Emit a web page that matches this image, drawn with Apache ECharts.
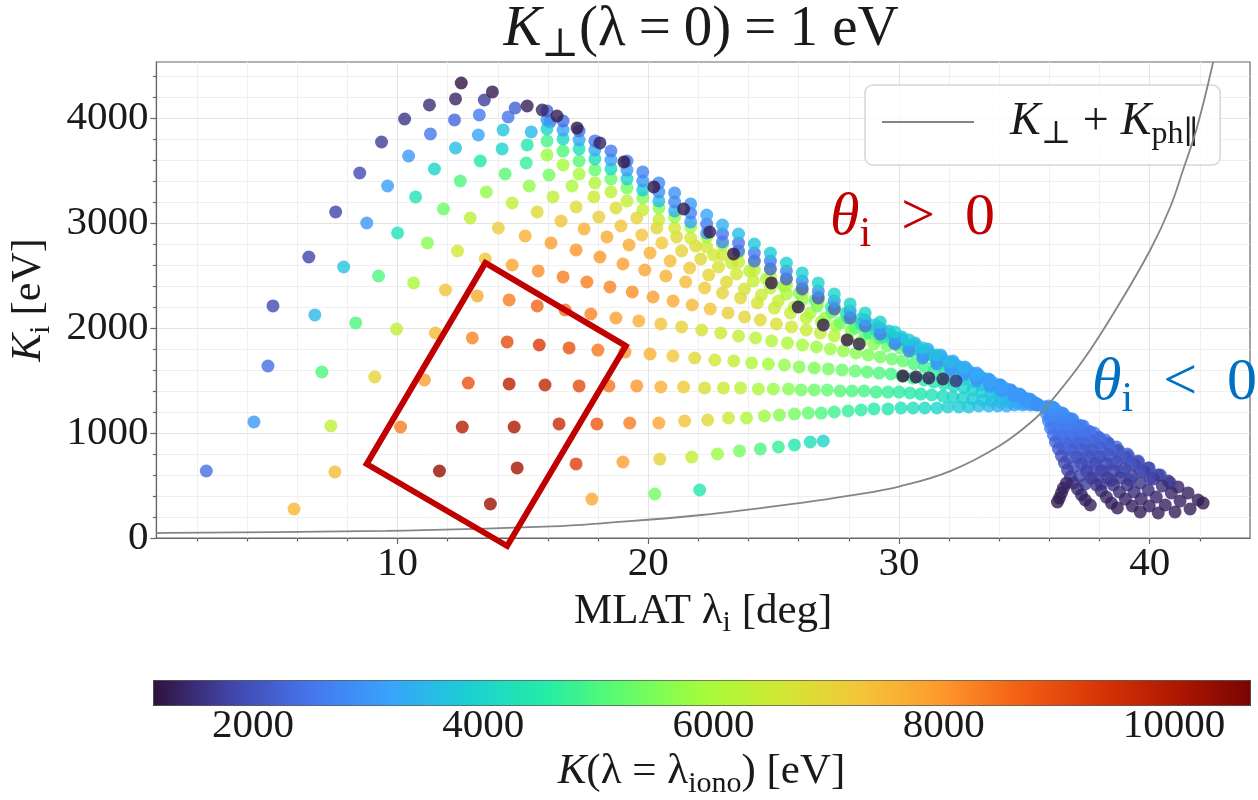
<!DOCTYPE html>
<html>
<head>
<meta charset="utf-8">
<script src="https://cdn.jsdelivr.net/npm/echarts@6/dist/echarts.min.js"></script>
<style>html,body{margin:0;padding:0;background:#fff}#chart{width:1258px;height:800px}</style>
</head>
<body>
<div id="chart"></div>
<script>
// Each point: [MLAT lambda_i (deg), K_i (eV), K at ionosphere (eV)]
// Lower rows, fanning towards the crossing point near 35.8 deg
const rowA = [[5.87,276,7500],[13.70,324,10200],[17.75,371,7700],[20.26,419,5400],[22.05,457,4400]];
const rowB = [[2.37,638,2400],[7.50,629,7400],[11.67,638,10300],[14.77,667,10100],[17.12,705,9200],[18.99,724,7900],[20.46,752,7000],[21.73,771,6300],[22.76,800,5800],[23.64,829,5400],[24.47,848,5000],[25.19,867,4700],[25.83,886,4400],[26.46,914,4200],[26.98,924,4000]];
const rowC = [[4.27,1105,3000],[7.34,1067,6300],[10.12,1057,8300],[12.58,1057,9900],[14.65,1057,10000],[16.44,1086,9600],[17.95,1086,8800],[19.26,1095,8300],[20.42,1095,7800],[21.45,1114,7300],[22.37,1124,6900],[23.20,1143,6500],[23.92,1143,6100],[24.63,1162,5800],[25.23,1171,5600],[25.83,1181,5400],[26.38,1190,5200],[26.90,1190,5000],[27.42,1200,4800],[27.97,1210,4700],[28.49,1219,4600],[29.00,1229,4500],[29.56,1229,4400],[30.08,1238,4300],[30.56,1238,4200],[31.03,1238,4100],[31.51,1238,4000],[31.95,1248,3900],[32.39,1248,3800],[32.78,1248,3700],[33.18,1257,3600],[33.58,1257,3500],[33.94,1257,3400],[34.29,1257,3300],[34.61,1267,3200],[34.93,1267,3100],[35.25,1267,3000],[35.57,1267,3000]];
const rowD = [[4.83,1638,2400],[6.98,1581,5000],[9.09,1533,7000],[11.07,1505,7900],[12.82,1476,8900],[14.45,1467,9800],[15.88,1457,9700],[17.24,1448,9000],[18.43,1448,8400],[19.54,1448,8000],[20.50,1438,7600],[21.41,1438,7200],[22.25,1429,6800],[23.00,1429,6500],[23.68,1429,6200],[24.39,1419,6000],[24.99,1419,5800],[25.59,1419,5600],[26.10,1410,5400],[26.62,1410,5300],[27.14,1410,5200],[27.65,1400,5100],[28.13,1400,5000],[28.61,1400,4900],[29.09,1390,4800],[29.56,1390,4700],[30.00,1390,4600],[30.44,1381,4500],[30.87,1371,4400],[31.31,1362,4300],[31.75,1352,4100],[32.15,1343,4000],[32.55,1333,3900],[32.94,1324,3800],[33.34,1314,3700],[33.70,1305,3600],[34.06,1295,3500],[34.41,1295,3400],[34.73,1286,3300],[35.05,1276,3200],[35.37,1276,3100]];
const rowE = [[5.03,2210,1900],[6.70,2124,3500],[8.33,2048,5000],[9.96,1990,6300],[11.51,1952,7500],[12.98,1905,8200],[14.37,1867,9000],[15.65,1838,9300],[16.84,1810,8900],[17.99,1790,8400],[19.07,1771,8000],[20.07,1752,7600],[20.98,1733,7200],[21.85,1714,6900],[22.65,1695,6600],[23.41,1686,6300],[24.12,1667,6100],[24.79,1657,5900],[25.43,1648,5700],[26.02,1629,5600],[26.62,1619,5500],[27.18,1610,5400],[27.73,1600,5300],[28.25,1590,5200],[28.73,1581,5100],[29.21,1571,5000],[29.68,1562,4900],[30.12,1543,4800],[30.56,1524,4700],[31.00,1505,4500],[31.39,1486,4400],[31.79,1467,4300],[32.19,1448,4100],[32.59,1429,4000],[32.94,1410,3900],[33.30,1390,3800],[33.66,1371,3700],[34.02,1352,3600],[34.33,1333,3500],[34.65,1314,3300],[34.97,1295,3200],[35.29,1286,3100]];
const rowF = [[6.46,2676,1800],[7.85,2581,3700],[9.24,2495,5000],[10.64,2429,6000],[11.91,2362,7300],[13.18,2305,7700],[14.45,2267,8300],[15.57,2210,8600],[16.68,2171,8500],[17.71,2133,8200],[18.71,2095,7900],[19.62,2067,7600],[20.50,2038,7300],[21.33,2010,7000],[22.13,1981,6700],[22.89,1952,6500],[23.60,1924,6300],[24.28,1905,6200],[24.92,1876,6100],[25.55,1857,6000],[26.15,1838,5900],[26.71,1819,5800],[27.26,1800,5800],[27.78,1781,5700],[28.29,1762,5600],[28.77,1743,5500],[29.25,1724,5400],[29.72,1705,5300],[30.16,1686,5200],[30.60,1657,5000],[31.03,1629,4800],[31.43,1600,4600],[31.83,1571,4400],[32.23,1543,4200],[32.59,1514,4000],[32.94,1486,3900],[33.30,1457,3800],[33.66,1429,3700],[34.02,1400,3600],[34.33,1371,3500],[34.65,1343,3400],[34.97,1314,3300],[35.29,1286,3100]];
// Upper rows, starting on the outer arc and sinking into the dense band
const rowG = [[7.53,3105,1800],[8.77,3000,3000],[10.00,2905,4300],[11.19,2810,5600],[12.39,2733,6600],[13.50,2657,7300],[14.57,2600,7800],[15.61,2543,8100],[16.60,2486,8300],[17.55,2438,8300],[18.47,2391,8200],[19.36,2343,8100],[20.19,2295,7900],[20.99,2257,7700],[21.75,2219,7500],[22.47,2181,7300],[23.18,2143,7100],[23.84,2105,7000],[24.47,2076,6900],[25.11,2038,6700],[25.71,2010,6600],[26.30,1981,6400],[26.86,1952,6300],[27.42,1924,6200],[27.97,1895,6000],[28.49,1867,5800],[29.00,1848,5600],[29.52,1829,5400],[30.04,1810,5200],[30.52,1771,5000],[31.00,1733,4800],[31.47,1695,4600],[31.91,1657,4400],[32.35,1619,4200],[32.78,1581,4000],[33.22,1533,3800],[33.62,1495,3600],[34.02,1457,3400],[34.41,1410,3300],[34.81,1371,3100],[35.21,1324,3000]];
const rowH = [[8.49,3476,1900],[9.60,3352,3100],[10.72,3248,4300],[11.83,3133,5300],[12.90,3048,6300],[14.02,2952,7100],[15.09,2876,7600],[16.12,2810,7900],[17.12,2743,8000],[18.07,2676,8000],[18.99,2610,7900],[19.86,2552,7800],[20.70,2495,7600],[21.49,2438,7400],[22.25,2381,7200],[22.96,2333,7000],[23.68,2286,6900],[24.35,2238,6700],[25.03,2190,6500],[25.67,2143,6400],[26.30,2095,6200],[26.90,2057,6000],[27.49,2019,5800],[28.09,1981,5600],[28.65,1943,5300],[29.21,1905,5000],[29.76,1867,4700],[30.28,1829,4400],[30.80,1790,4200],[31.31,1743,4000],[31.79,1695,3800],[32.27,1648,3700],[32.74,1600,3600],[33.18,1552,3500],[33.62,1505,3400],[34.06,1457,3300],[34.45,1410,3200],[34.85,1362,3100],[35.25,1314,3000]];
const rowI = [[9.36,3771,1700],[10.44,3638,3000],[11.47,3514,4000],[12.50,3400,5000],[13.54,3295,5700],[14.57,3190,6300],[15.57,3105,6900],[16.52,3019,7300],[17.44,2943,7600],[18.35,2867,7700],[19.23,2790,7700],[20.07,2714,7600],[20.87,2638,7400],[21.65,2571,7200],[22.41,2505,7000],[23.12,2438,6900],[23.84,2371,6700],[24.51,2314,6500],[25.19,2257,6400],[25.83,2200,6200],[26.46,2143,6000],[27.06,2095,5700],[27.65,2048,5400],[28.25,2000,5100],[28.81,1952,4800],[29.36,1914,4500],[29.92,1876,4200],[30.44,1829,4000],[30.95,1781,3900],[31.47,1733,3800],[31.95,1676,3700],[32.43,1629,3600],[32.90,1571,3500],[33.34,1524,3400],[33.78,1476,3300],[34.21,1429,3200],[34.61,1381,3100],[35.01,1333,3000],[35.37,1295,3000]];
const rowJ = [[10.28,3990,1600],[11.31,3848,2500],[12.31,3714,3600],[13.30,3590,4400],[14.29,3467,5100],[15.25,3352,5700],[16.20,3248,6300],[17.12,3152,6800],[18.03,3057,7100],[18.91,2971,7300],[19.74,2886,7300],[20.54,2810,7200],[21.33,2733,7000],[22.09,2657,6900],[22.80,2581,6700],[23.52,2514,6600],[24.19,2448,6400],[24.87,2381,6200],[25.51,2324,6000],[26.14,2267,5700],[26.74,2210,5400],[27.34,2152,5100],[27.93,2095,4800],[28.49,2038,4500],[29.05,1990,4200],[29.60,1943,4000],[30.12,1895,3800],[30.64,1838,3700],[31.15,1781,3600],[31.67,1724,3500],[32.15,1667,3400],[32.63,1610,3300],[33.10,1552,3200],[33.58,1495,3100],[34.02,1448,3000],[34.45,1400,3000],[34.85,1352,3000],[35.25,1305,3000]];
const rowK = [[11.27,4124,1500],[12.27,3981,2300],[13.22,3838,3200],[14.17,3705,4000],[15.13,3571,4700],[16.04,3457,5400],[16.96,3352,6000],[17.83,3248,6500],[18.71,3143,6800],[19.54,3048,7000],[20.34,2952,7000],[21.13,2867,6900],[21.89,2781,6800],[22.61,2695,6600],[23.32,2619,6400],[24.04,2543,6200],[24.71,2467,6000],[25.39,2400,5700],[26.02,2333,5400],[26.66,2267,5000],[27.30,2200,4600],[27.89,2143,4300],[28.49,2086,4000],[29.05,2029,3800],[29.60,1971,3700],[30.12,1914,3600],[30.64,1857,3500],[31.15,1800,3400],[31.67,1743,3300],[32.15,1686,3200],[32.63,1629,3100],[33.10,1571,3000],[33.58,1514,3000],[34.02,1457,3000],[34.45,1410,3000],[34.85,1362,3000],[35.25,1314,3000]];
// Points near the top of the outer arc
const topArc = [[12.31,4181,1400],[13.26,4029,2600],[14.21,3886,3700],[15.17,3743,4400],[13.46,4171,1700],[14.41,4010,2500],[15.33,3867,3500],[14.69,4095,2200],[16.08,3962,2400]];
// Dense band along the upper envelope (bottom layer first)
const bandQ = [[15.96,3648,5800],[16.60,3552,5900],[17.24,3466,6000],[17.87,3381,6100],[18.51,3296,6200],[19.15,3209,6300],[19.78,3124,6400],[20.42,3029,6500],[21.05,2953,6600],[21.69,2857,6600],[22.33,2771,6600],[22.96,2695,6600],[23.60,2628,6500],[24.23,2552,6400],[24.87,2485,6300],[25.51,2409,6200],[26.14,2334,6100],[26.78,2258,6000],[27.42,2172,5900],[28.05,2096,5700],[28.65,2029,5500],[29.25,1952,5300],[29.84,1867,5100],[30.40,1800,4800],[30.95,1734,4500],[31.51,1676,4200],[32.07,1619,4000],[32.58,1571,3800],[33.10,1514,3600],[33.62,1466,3400],[34.10,1409,3200],[34.57,1362,3100],[35.05,1314,3000],[35.49,1276,2900]];
const bandP = [[15.96,3781,4900],[16.60,3685,5000],[17.24,3590,5100],[17.87,3505,5200],[18.51,3419,5300],[19.15,3333,5400],[19.78,3238,5500],[20.42,3143,5600],[21.05,3057,5700],[21.69,2962,5800],[22.33,2866,5900],[22.96,2791,6000],[23.60,2714,6000],[24.23,2629,6000],[24.87,2562,6000],[25.51,2476,5900],[26.14,2391,5800],[26.78,2305,5600],[27.42,2210,5400],[28.05,2134,5200],[28.65,2057,5000],[29.25,1981,4800],[29.84,1895,4600],[30.40,1829,4400],[30.95,1762,4200],[31.51,1695,4000],[32.07,1638,3800],[32.58,1590,3600],[33.10,1523,3400],[33.62,1476,3300],[34.10,1419,3200],[34.57,1371,3100],[35.05,1314,3000],[35.49,1276,2900]];
const bandL = [[15.96,3896,4000],[16.60,3800,4100],[17.24,3705,4200],[17.87,3610,4200],[18.51,3515,4100],[19.15,3419,4000],[19.78,3315,3800],[20.42,3210,3600],[21.05,3115,3400],[21.69,3010,3200],[22.33,2905,3000],[22.96,2819,2800],[23.60,2733,2600],[24.23,2638,2400],[24.87,2562,2300],[25.51,2467,2200],[26.14,2372,2100],[26.78,2286,2100],[27.42,2181,2200],[28.05,2096,2300],[28.65,2019,2400],[29.25,1943,2500],[29.84,1848,2600],[30.40,1781,2700],[30.95,1715,2800],[31.51,1657,2900],[32.07,1600,2900],[32.58,1552,3000],[33.10,1495,3000],[33.62,1447,3000],[34.10,1400,3000],[34.57,1352,3000],[35.05,1305,3000],[35.49,1266,2900]];
const bandM = [[15.96,3981,3000],[16.60,3885,3200],[17.24,3790,3300],[17.87,3695,3300],[18.51,3600,3200],[19.15,3504,3100],[19.78,3400,3000],[20.42,3295,2900],[21.05,3200,2800],[21.69,3095,2700],[22.33,2990,2600],[22.96,2895,2500],[23.60,2809,2500],[24.23,2714,2500],[24.87,2638,2600],[25.51,2543,2700],[26.14,2448,2800],[26.78,2353,2900],[27.42,2257,3000],[28.05,2162,3000],[28.65,2076,3100],[29.25,2000,3100],[29.84,1905,3100],[30.40,1838,3100],[30.95,1762,3100],[31.51,1705,3100],[32.07,1638,3100],[32.58,1590,3000],[33.10,1523,3000],[33.62,1476,3000],[34.10,1419,3000],[34.57,1371,3000],[35.05,1314,3000],[35.49,1276,2900]];
const bandN = [[15.96,4067,2200],[16.60,3971,2400],[17.24,3876,2500],[17.87,3781,2500],[18.51,3686,2600],[19.15,3590,2600],[19.78,3486,2700],[20.42,3381,2800],[21.05,3286,2900],[21.69,3181,3000],[22.33,3076,3200],[22.96,2981,3400],[23.60,2895,3600],[24.23,2800,3700],[24.87,2714,3800],[25.51,2619,3900],[26.14,2524,3900],[26.78,2429,4000],[27.42,2324,4000],[28.05,2229,4000],[28.65,2143,4000],[29.25,2057,3900],[29.84,1962,3900],[30.40,1886,3800],[30.95,1810,3700],[31.51,1743,3600],[32.07,1676,3500],[32.58,1619,3400],[33.10,1552,3300],[33.62,1495,3200],[34.10,1438,3100],[34.57,1381,3000],[35.05,1324,3000],[35.49,1276,2900]];
// Low-energy row cutting through the band
const foldRow = [[12.54,4333,1150],[13.78,4248,1250],[15.17,4114,1300],[15.77,4076,1400],[16.36,4019,1250],[17.16,3905,1200],[18.07,3762,1350],[19.03,3581,1200],[20.22,3343,1200],[21.41,3133,1250],[22.45,2914,1300],[23.40,2705,1200],[24.91,2429,1200],[25.98,2200,1200],[26.98,2029,1250],[27.93,1886,1200],[28.41,1848,1300],[30.16,1543,1150],[30.68,1533,1200],[31.19,1524,1250],[31.75,1514,1300],[32.27,1495,1500]];
// theta_i < 0 branch: streaks spreading out past the crossing point
const fan1 = [[35.80,1248,3000],[35.88,1181,2900],[35.96,1114,2750],[36.04,1048,2600],[36.16,981,2450],[36.24,914,2300],[36.36,848,2150],[36.48,781,2000],[36.60,714,1900],[36.72,648,1800],[36.84,581,1700],[36.96,524,1600],[37.12,467,1500],[37.28,410,1400],[37.43,362,1350],[37.63,314,1300]];
const fan12 = [[35.84,1238,3000],[36.00,1143,2830],[36.16,1048,2660],[36.36,952,2490],[36.56,857,2320],[36.76,762,2150],[36.96,676,2000],[37.20,590,1840],[37.43,514,1710]];
const fan2 = [[35.88,1238,3000],[36.04,1171,2900],[36.20,1105,2750],[36.36,1038,2600],[36.52,971,2450],[36.68,905,2300],[36.88,838,2150],[37.08,771,2000],[37.28,705,1900],[37.47,638,1800],[37.67,571,1700],[37.87,505,1600],[38.07,448,1500],[38.27,390,1400],[38.47,333,1350],[38.71,286,1300]];
const fan23 = [[35.92,1238,3000],[36.16,1143,2830],[36.40,1048,2660],[36.68,952,2490],[36.96,857,2320],[37.24,762,2150],[37.51,676,2000],[37.79,590,1840],[38.07,514,1710]];
const fan3 = [[35.96,1238,3000],[36.16,1171,2900],[36.40,1105,2750],[36.64,1038,2600],[36.88,971,2450],[37.12,905,2300],[37.35,838,2150],[37.59,771,2000],[37.83,705,1900],[38.07,638,1800],[38.31,571,1700],[38.55,505,1600],[38.79,438,1500],[39.03,371,1400],[39.30,305,1350],[39.62,248,1300]];
const fan34 = [[36.00,1238,3000],[36.28,1152,2850],[36.56,1067,2700],[36.88,981,2540],[37.20,895,2390],[37.51,810,2230],[37.83,724,2080],[38.15,638,1930],[38.47,552,1780]];
const fan4 = [[36.04,1238,3000],[36.32,1171,2900],[36.60,1105,2750],[36.88,1038,2600],[37.16,971,2450],[37.43,905,2300],[37.71,838,2150],[37.99,771,2000],[38.27,705,1900],[38.55,638,1800],[38.83,571,1700],[39.11,505,1600],[39.38,438,1500],[39.66,371,1400],[39.98,305,1350],[40.34,238,1300]];
const fan45 = [[36.08,1238,3000],[36.40,1162,2860],[36.72,1086,2730],[37.08,1010,2590],[37.43,933,2460],[37.79,857,2320],[38.15,781,2180],[38.51,705,2050],[38.87,629,1910],[39.22,552,1780]];
const fan5 = [[36.12,1238,3000],[36.44,1181,2900],[36.76,1124,2750],[37.08,1057,2600],[37.39,990,2450],[37.71,924,2300],[38.03,857,2150],[38.35,790,2000],[38.67,724,1900],[38.99,657,1800],[39.30,590,1700],[39.62,524,1600],[39.94,457,1500],[40.26,390,1400],[40.62,314,1350],[41.01,248,1300]];
const fan56 = [[36.16,1238,3000],[36.52,1171,2880],[36.88,1105,2760],[37.24,1038,2650],[37.63,971,2530],[38.03,905,2410],[38.43,838,2290],[38.83,771,2170],[39.22,705,2050],[39.62,638,1930],[40.02,571,1810]];
const fan6 = [[36.20,1238,3000],[36.56,1181,2900],[36.92,1124,2750],[37.28,1067,2600],[37.63,1010,2450],[37.99,952,2300],[38.35,895,2150],[38.71,829,2000],[39.07,762,1900],[39.42,695,1800],[39.78,629,1700],[40.14,562,1600],[40.50,495,1500],[40.86,429,1400],[41.21,352,1350],[41.61,276,1300]];
const fan67 = [[36.12,1248,3000],[36.52,1190,2900],[36.92,1133,2800],[37.35,1067,2680],[37.79,1000,2570],[38.23,933,2450],[38.67,867,2330],[39.11,800,2210],[39.54,733,2090],[39.98,667,1970],[40.42,600,1850],[40.82,524,1710]];
const fan7 = [[35.96,1257,3000],[36.36,1200,2900],[36.76,1143,2750],[37.16,1076,2600],[37.55,1019,2450],[37.95,962,2300],[38.35,905,2150],[38.75,838,2000],[39.15,781,1900],[39.54,724,1800],[39.94,667,1700],[40.34,600,1600],[40.74,543,1500],[41.13,486,1400],[41.53,429,1350],[41.93,362,1300],[42.13,333,1250]];
const fanBlob = [[36.68,524,1400],[36.56,476,1350],[36.48,429,1300],[36.40,381,1300],[36.32,343,1250]];

// K_perp + K_ph,par curve
const curveMlat = [0.38, 0.78, 9.52, 16.16, 18.15, 22.13, 26.10, 28.09, 30.08, 32.07, 34.06, 35.37, 36.04, 37.35, 38.71, 40.02, 40.82, 41.33, 41.89, 42.53];
const curveK    = [46, 48, 67, 110, 140, 219, 335, 405, 495, 640, 886, 1124, 1295, 1695, 2200, 2743, 3152, 3505, 3914, 4533];

// Highlight box corners [MLAT, K_i]
const boxCorners = [[13.50,2619],[19.10,1829],[14.37,-76],[8.77,705]];

// Axes
const X_RANGE = [0.38, 44.0];
const Y_RANGE = [0, 4533];
const CBAR_RANGE = [1131, 10660];
const MAJOR_X = [10, 20, 30, 40];
const MINOR_X = [2, 4, 6, 8, 12, 14, 16, 18, 22, 24, 26, 28, 32, 34, 36, 38, 42];
const MAJOR_Y = [0, 1000, 2000, 3000, 4000];
const MINOR_Y = [200, 400, 600, 800, 1200, 1400, 1600, 1800, 2200, 2400, 2600, 2800, 3200, 3400, 3600, 3800, 4200, 4400];
const CBAR_TICKS = [2000, 4000, 6000, 8000, 10000];

const TURBO = ['#30123b','#4145ab','#4675ed','#39a2fc','#1bcfd4','#24eca6','#61fc6c','#a4fc3b','#d1e834','#f3c63a','#fe9b2d','#f36315','#d93806','#b11901','#7a0402'];

const SERIF = "'Liberation Serif', 'DejaVu Serif', serif";
const INK = '#1a1a1a';
const CURVE_NAME = 'curve';

const points = [].concat(rowA, rowB, rowC, rowD, rowE, rowF, rowG, rowH, rowI, rowJ, rowK,
  topArc, bandQ, bandP, bandL, bandM, bandN, foldRow,
  fan7, fan67, fan6, fan56, fan5, fan45, fan4, fan34, fan3, fan23, fan2, fan12, fan1, fanBlob);
const curve = curveMlat.map((x, i) => [x, curveK[i]]);
const box = boxCorners.concat([boxCorners[0], boxCorners[1]]);

// Rich-text styles: n = upright, k = italic, s = subscript, op = spaced operator
function rich(size, color, opPad) {
  const lh = Math.round(size * 1.25);
  const base = { fontFamily: SERIF, fontSize: size, lineHeight: lh, color: color, fill: color };
  return {
    n: Object.assign({}, base),
    k: Object.assign({}, base, { fontStyle: 'italic' }),
    s: Object.assign({}, base, { fontSize: Math.round(size * 0.7), lineHeight: Math.round(size * 0.72), verticalAlign: 'bottom' }),
    op: Object.assign({}, base, { padding: [0, opPad || 10, 0, opPad || 10] }),
    gap: Object.assign({}, base, { width: 31 })
  };
}
const tickFont = { fontFamily: SERIF, fontSize: 41, color: INK };
const spine = { color: '#666', width: 1.2 };

const chart = echarts.init(document.getElementById('chart'), null, { renderer: 'canvas' });
chart.setOption({
  animation: false,
  backgroundColor: '#ffffff',
  grid: [
    { left: 153, top: 62, width: 1097, height: 476, show: true, borderColor: '#666', borderWidth: 1.2, backgroundColor: 'transparent' },
    { left: 153, top: 680, width: 1097, height: 25, show: false }
  ],
  xAxis: [
    { gridIndex: 0, type: 'value', position: 'bottom', min: X_RANGE[0], max: X_RANGE[1],
      axisLine: { show: true, onZero: false, lineStyle: spine },
      axisTick: { show: true, customValues: MAJOR_X, length: 6, lineStyle: spine },
      axisLabel: { customValues: MAJOR_X, margin: 6, formatter: v => String(v), ...tickFont },
      splitLine: { show: true, lineStyle: { color: '#e4e4e4', width: 1 } },
      name: '{n|MLAT λ}{s|i}{n| [deg]}', nameLocation: 'middle', nameGap: 45,
      nameTextStyle: { rich: rich(43, INK) } },
    { gridIndex: 0, type: 'value', position: 'bottom', min: X_RANGE[0], max: X_RANGE[1],
      axisLine: { show: false },
      axisTick: { show: true, customValues: MINOR_X, length: 3.5, lineStyle: spine },
      axisLabel: { show: false },
      splitLine: { show: true, lineStyle: { color: '#efefef', width: 1 } } },
    { gridIndex: 1, type: 'value', position: 'bottom', min: CBAR_RANGE[0], max: CBAR_RANGE[1],
      axisLine: { show: false },
      axisTick: { show: true, customValues: CBAR_TICKS, length: 6, lineStyle: { color: '#333', width: 1.2 } },
      axisLabel: { customValues: CBAR_TICKS, margin: 6, formatter: v => String(v), ...tickFont },
      splitLine: { show: false },
      name: '{k|K}{n|(λ = λ}{s|iono}{n|) [eV]}', nameLocation: 'middle', nameGap: 45,
      nameTextStyle: { rich: rich(43, INK) } }
  ],
  yAxis: [
    { gridIndex: 0, type: 'value', position: 'left', min: Y_RANGE[0], max: Y_RANGE[1],
      axisLine: { show: true, onZero: false, lineStyle: spine },
      axisTick: { show: true, customValues: MAJOR_Y, length: 6, lineStyle: spine },
      axisLabel: { customValues: MAJOR_Y, margin: 8, formatter: v => String(v), ...tickFont },
      splitLine: { show: true, lineStyle: { color: '#e4e4e4', width: 1 } },
      name: '{k|K}{s|i}{n| [eV]}', nameLocation: 'middle', nameRotate: 90, nameGap: 96,
      nameTextStyle: { rich: rich(42, INK) } },
    { gridIndex: 0, type: 'value', position: 'left', min: Y_RANGE[0], max: Y_RANGE[1],
      axisLine: { show: false },
      axisTick: { show: true, customValues: MINOR_Y, length: 3.5, lineStyle: spine },
      axisLabel: { show: false },
      splitLine: { show: true, lineStyle: { color: '#efefef', width: 1 } } },
    { gridIndex: 1, type: 'value', min: 0, max: 1, show: false }
  ],
  visualMap: {
    type: 'continuous', seriesIndex: 0, dimension: 2,
    min: CBAR_RANGE[0], max: CBAR_RANGE[1],
    inRange: { color: TURBO },
    orient: 'horizontal', left: 153, top: 680, itemWidth: 25, itemHeight: 1097,
    calculable: false, hoverLink: false, realtime: false, text: null,
    padding: 0, borderColor: '#333', borderWidth: 1,
    textStyle: { fontSize: 0, color: 'transparent' }
  },
  legend: {
    data: [CURVE_NAME], left: 865, top: 85,
    padding: [14, 22, 14, 17],
    backgroundColor: 'rgba(255,255,255,0.8)', borderColor: '#d6d6d6', borderWidth: 1.5, borderRadius: 8,
    icon: 'rect', itemWidth: 92, itemHeight: 2,
    formatter: () => '{gap| }{k|K}{s|⊥}{op|+}{k|K}{s|ph∥}',
    textStyle: { rich: rich(46, INK, 12) }
  },
  graphic: [
    { type: 'text', x: 701, y: 30, z: 10,
      style: { text: '{k|K}{s|⊥}{n|(λ}{op|=}{n|0)}{op|=}{n|1 eV}', rich: rich(57, INK, 13), align: 'center', verticalAlign: 'middle' } },
    { type: 'text', x: 830, y: 218, z: 10,
      style: { text: '{k|θ}{s|i}{op|>}{n|0}', rich: rich(60, '#c00000', 30), align: 'left', verticalAlign: 'middle' } },
    { type: 'text', x: 1092, y: 383, z: 10,
      style: { text: '{k|θ}{s|i}{op|<}{n|0}', rich: rich(60, '#0070c0', 30), align: 'left', verticalAlign: 'middle' } }
  ],
  series: [
    { type: 'scatter', xAxisIndex: 0, yAxisIndex: 0, data: points, symbolSize: 13,
      itemStyle: { opacity: 0.8 }, silent: true, z: 2 },
    { type: 'line', name: CURVE_NAME, xAxisIndex: 0, yAxisIndex: 0, data: curve, smooth: 0.4,
      symbol: 'none', lineStyle: { color: '#858585', width: 1.8 }, itemStyle: { color: '#858585' }, z: 4, silent: true },
    { type: 'line', xAxisIndex: 0, yAxisIndex: 0, data: box, clip: false, symbol: 'none',
      lineStyle: { color: '#c00000', width: 6, join: 'miter', cap: 'butt' }, z: 6, silent: true }
  ]
});
</script>
</body>
</html>
